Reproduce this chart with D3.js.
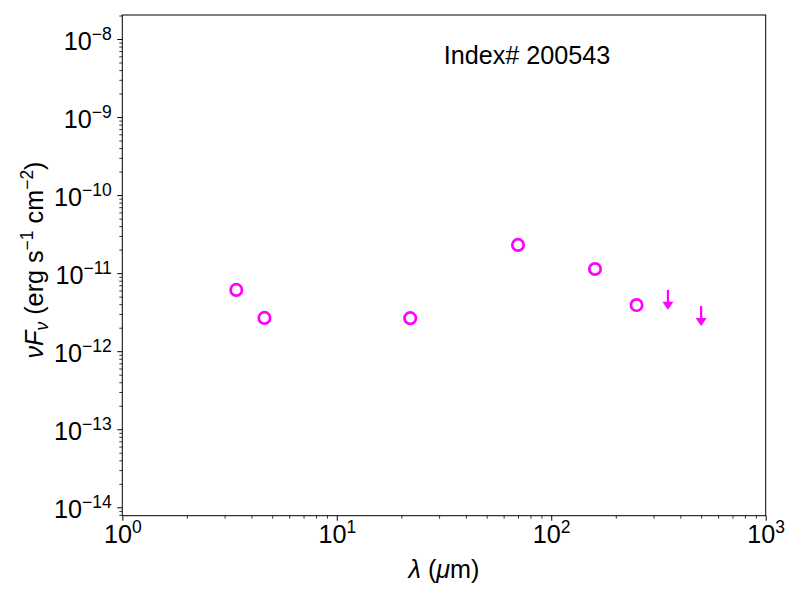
<!DOCTYPE html>
<html>
<head>
<meta charset="utf-8">
<script src="https://cdn.jsdelivr.net/npm/d3@7"></script>
<style>
    body { margin: 0; background: #fff; }
    text { font-family: "Liberation Sans", Arial, sans-serif; fill: #000; }
</style>
</head>
<body>
<svg id="chart" width="800" height="600"></svg>
<script>
// detections (microns, erg s^-1 cm^-2)
var wavelengths = [3.4, 4.6, 22, 70, 160, 250];
var fluxes = [6.1e-12, 2.67e-12, 2.65e-12, 2.3e-11, 1.13e-11, 3.9e-12];

// upper limits: value and where the arrow ends
var limitWavelengths = [350, 500];
var limitFluxes = [6.1e-12, 3.8e-12];
var limitTips = [3.4e-12, 2.1e-12];

var xTickValues = [1, 10, 100, 1000];
var xTickExps = ['0', '1', '2', '3'];
var yTickValues = [1e-14, 1e-13, 1e-12, 1e-11, 1e-10, 1e-9, 1e-8];
var yTickExps = ['\u221214', '\u221213', '\u221212', '\u221211', '\u221210', '\u22129', '\u22128'];

var labelText = 'Index# 200543';
var markColor = '#ff00ff';
var bigFont = '25.2px', smallFont = '17.5px';

var svg = d3.select('#chart');
var plotLeft = 122.3, plotRight = 765.7, plotTop = 15, plotBottom = 515.7;

var x = d3.scaleLog().domain([1, 1000]).range([plotLeft, plotRight]);
var y = d3.scaleLog().domain([Math.pow(10, -14.1076), Math.pow(10, -7.6925)]).range([plotBottom, plotTop]);

function minorTicks(scale) {
    var d = scale.domain(), out = [];
    for (var e = Math.floor(Math.log10(d[0])); e <= Math.ceil(Math.log10(d[1])); e++) {
        for (var m = 2; m < 10; m++) {
            var v = m * Math.pow(10, e);
            if (v >= d[0] && v <= d[1]) { out.push(v); }
        }
    }
    return out;
}

// minor ticks first
svg.append('g').attr('transform', 'translate(0,' + plotBottom + ')')
    .call(d3.axisBottom(x).tickValues(minorTicks(x)).tickSize(3).tickFormat(''))
    .call(function(g){ g.select('.domain').remove(); g.selectAll('line').attr('stroke-width', 0.8); });
svg.append('g').attr('transform', 'translate(' + plotLeft + ',0)')
    .call(d3.axisLeft(y).tickValues(minorTicks(y)).tickSize(3).tickFormat(''))
    .call(function(g){ g.select('.domain').remove(); g.selectAll('line').attr('stroke-width', 0.8); });

// major ticks
var xAxis = svg.append('g').attr('transform', 'translate(0,' + plotBottom + ')')
    .call(d3.axisBottom(x).tickValues(xTickValues).tickSize(5).tickFormat(''));
xAxis.select('.domain').remove();
xAxis.attr('font-size', null);
xAxis.selectAll('line').attr('stroke-width', 1);
xAxis.selectAll('.tick').append('text')
    .attr('y', 27.5).attr('text-anchor', 'middle')
    .style('font-size', bigFont).attr('fill', '#000')
    .each(function(d, i){
        var t = d3.select(this);
        t.append('tspan').text('10');
        t.append('tspan').attr('dy', -10.5).style('font-size', smallFont).text(xTickExps[i]);
    });

var yAxis = svg.append('g').attr('transform', 'translate(' + plotLeft + ',0)')
    .call(d3.axisLeft(y).tickValues(yTickValues).tickSize(5).tickFormat(''));
yAxis.select('.domain').remove();
yAxis.attr('font-size', null);
yAxis.selectAll('line').attr('stroke-width', 1);
yAxis.selectAll('.tick').append('text')
    .attr('x', -10.5).attr('y', 10.5).attr('text-anchor', 'end')
    .style('font-size', bigFont).attr('fill', '#000')
    .each(function(d, i){
        var t = d3.select(this);
        t.append('tspan').text('10');
        t.append('tspan').attr('dy', -10.5).style('font-size', smallFont).text(yTickExps[i]);
    });

// frame
svg.append('rect')
    .attr('x', plotLeft).attr('y', plotTop)
    .attr('width', plotRight - plotLeft).attr('height', plotBottom - plotTop)
    .attr('fill', 'none').attr('stroke', '#000').attr('stroke-width', 1);

// detections
svg.append('g').selectAll('circle')
    .data(wavelengths)
    .enter().append('circle')
    .attr('cx', function(d){ return x(d); })
    .attr('cy', function(d, i){ return y(fluxes[i]); })
    .attr('r', 5.7)
    .attr('fill', 'none')
    .attr('stroke', markColor)
    .attr('stroke-width', 2.7);

// upper limits
var lim = svg.append('g').selectAll('g')
    .data(limitWavelengths)
    .enter().append('g');
lim.append('line')
    .attr('x1', function(d){ return x(d); })
    .attr('x2', function(d){ return x(d); })
    .attr('y1', function(d, i){ return y(limitFluxes[i]); })
    .attr('y2', function(d, i){ return y(limitTips[i]) - 4; })
    .attr('stroke', markColor).attr('stroke-width', 2.2);
lim.append('path')
    .attr('d', function(d, i){
        var cx = x(d), ty = y(limitTips[i]);
        return 'M' + (cx - 5.5) + ',' + (ty - 8) + 'L' + (cx + 5.5) + ',' + (ty - 8) + 'L' + cx + ',' + ty + 'Z';
    })
    .attr('fill', markColor);

// index label
svg.append('text')
    .attr('x', 527).attr('y', 64.3)
    .attr('text-anchor', 'middle')
    .style('font-size', bigFont)
    .text(labelText);

// x label
var xl = svg.append('text')
    .attr('x', (plotLeft + plotRight) / 2).attr('y', 578)
    .attr('text-anchor', 'middle')
    .style('font-size', bigFont);
xl.append('tspan').style('font-style', 'italic').text('\u03bb');
xl.append('tspan').text(' (');
xl.append('tspan').style('font-style', 'italic').text('\u03bc');
xl.append('tspan').text('m)');

// y label
var yl = svg.append('text')
    .attr('transform', 'translate(43,260) rotate(-90)')
    .attr('text-anchor', 'middle')
    .style('font-size', bigFont);
yl.append('tspan').style('font-style', 'italic').text('\u03bdF');
yl.append('tspan').attr('dy', 5).style('font-size', smallFont).style('font-style', 'italic').text('\u03bd');
yl.append('tspan').attr('dy', -5).text(' (erg s');
yl.append('tspan').attr('dy', -10.5).style('font-size', smallFont).text('\u22121');
yl.append('tspan').attr('dy', 10.5).text(' cm');
yl.append('tspan').attr('dy', -10.5).style('font-size', smallFont).text('\u22122');
yl.append('tspan').attr('dy', 10.5).text(')');
</script>
</body>
</html>
